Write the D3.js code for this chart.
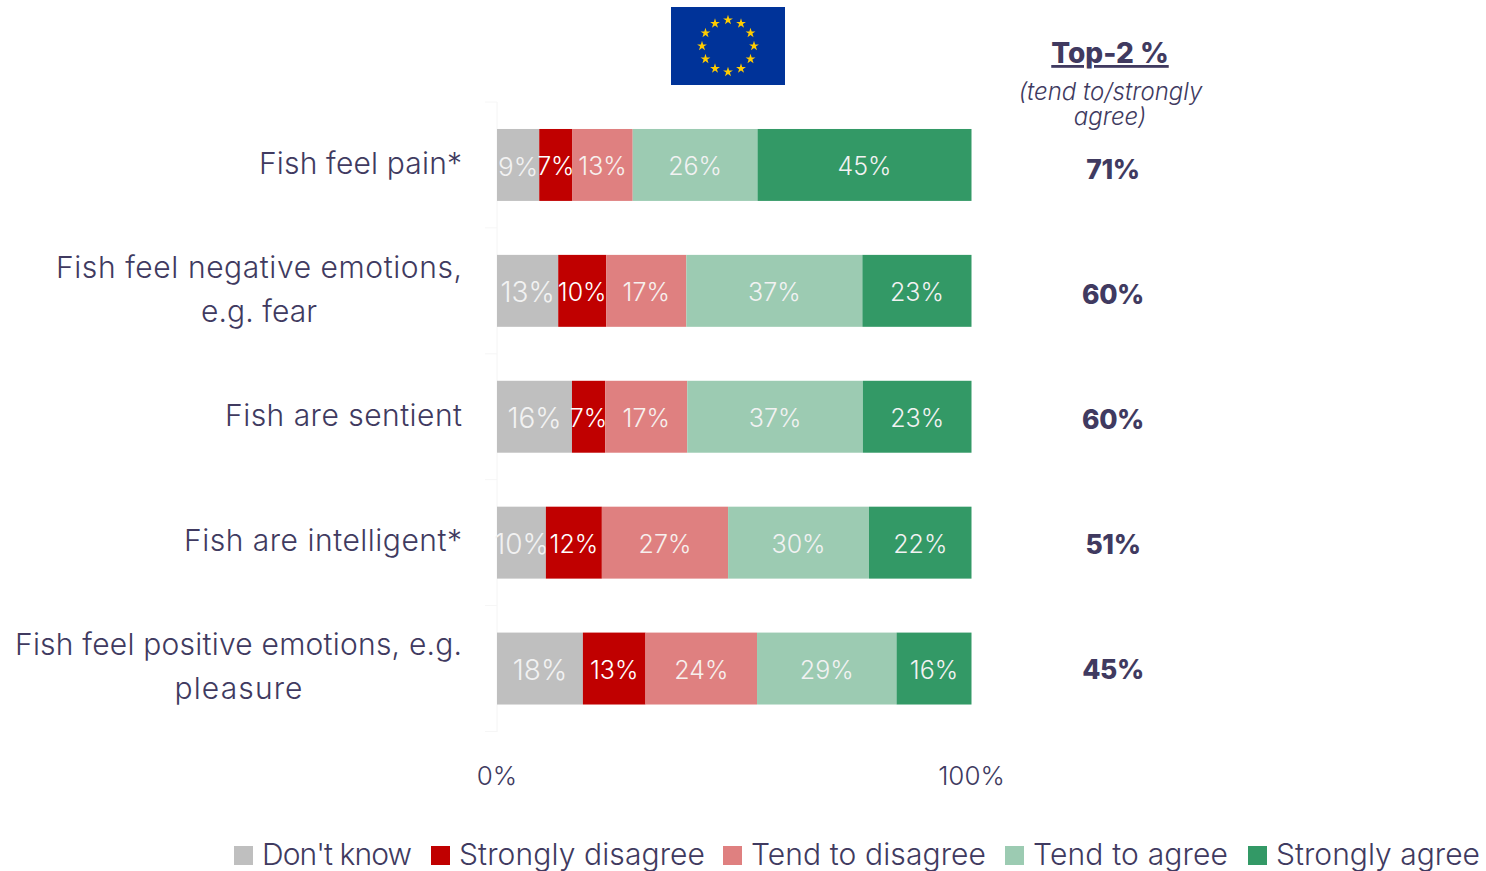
<!DOCTYPE html>
<html><head><meta charset="utf-8"><script src="https://cdn.jsdelivr.net/npm/d3@7"></script>
<style>html,body{margin:0;padding:0;background:#fff}svg{display:block}text{font-family:Inter,"Open Sans",sans-serif}</style></head>
<body><svg id="c" width="1486" height="871"></svg>
<script>
const categories = ["Fish feel pain*","Fish feel negative emotions,|e.g. fear","Fish are sentient","Fish are intelligent*","Fish feel positive emotions, e.g.|pleasure"];
const seriesNames = ["Don't know","Strongly disagree","Tend to disagree","Tend to agree","Strongly agree"];
const seriesColors = ["#bfbfbf","#c00000","#df8080","#9ccbb2","#339966"];
const labelColors = ["#f2f2f2","#ffffff","#f7f0ee","#f2f2f2","#f2f2f2"];
const dontKnow = [8.9,12.9,15.8,10.3,18.1];
const stronglyDisagree = [7.0,10.1,7.0,11.8,13.2];
const tendDisagree = [12.7,16.9,17.3,26.6,23.5];
const tendAgree = [26.3,37.1,37.0,29.7,29.4];
const stronglyAgree = [45.1,23.0,22.9,21.6,15.8];
const top2 = [71,60,60,51,45];
const xTicks = [0,100];
const series = [dontKnow,stronglyDisagree,tendDisagree,tendAgree,stronglyAgree];
const ink = "#403a60";
const svg = d3.select("#c");
const x = d3.scaleLinear().domain([0,100]).range([497,971.5]);
const y = d3.scaleBand().domain(categories).range([102,731.5]).paddingInner(0.4286).paddingOuter(0.2143);
const yTop = d3.scalePoint().domain(categories).range([169,669]);
// rendered widths of the reference's typeface, so the substitute font occupies the same run
const fitted = {"Fish feel pain*":203,"Fish feel negative emotions,":406,"e.g. fear":116,"Fish are sentient":237,"Fish are intelligent*":278,"Fish feel positive emotions, e.g.":447,"pleasure":128,
  "Don't know":150,"Strongly disagree":246,"Tend to disagree":235,"Tend to agree":195,"Strongly agree":204};
const fit = s => s.attr("textLength",fitted[s.text()]).attr("lengthAdjust","spacing");
const labelSize = (k,i) => k===0 ? (i===0 ? 26 : 28) : 25;

// faint axis
const edges = d3.range(6).map(i=>102+i*y.step());
svg.append("line").attr("x1",497).attr("x2",497).attr("y1",102).attr("y2",732).attr("stroke","#f4f4f4");
svg.selectAll(".tk").data(edges).join("line").attr("x1",485).attr("x2",497).attr("y1",d=>d).attr("y2",d=>d).attr("stroke","#f6f6f6");

// bars
categories.forEach((c,i)=>{
  let cum=0;
  series.forEach((s,k)=>{
    const v=s[i], x0=x(cum), x1=x(cum+v); cum+=v;
    svg.append("rect").attr("x",x0).attr("y",y(c)).attr("width",x1-x0).attr("height",y.bandwidth()).attr("fill",seriesColors[k]);
    svg.append("text").attr("x",(x0+x1)/2).attr("y",y(c)+y.bandwidth()/2+1.5).attr("dy","0.36em")
      .attr("text-anchor","middle").attr("font-size",labelSize(k,i)).attr("font-weight",300).attr("fill",labelColors[k])
      .text(Math.round(v)+"%");
  });
  // category label
  const parts=c.split("|");
  const cy=y(c)+y.bandwidth()/2;
  if(parts.length===1){
    svg.append("text").attr("x",462).attr("y",cy-2).attr("dy","0.36em").attr("text-anchor","end")
      .attr("font-size",30).attr("font-weight",300).attr("fill",ink).text(parts[0]).call(fit);
  } else {
    svg.append("text").attr("x",462).attr("y",cy-24).attr("dy","0.36em").attr("text-anchor","end")
      .attr("font-size",30).attr("font-weight",300).attr("fill",ink).text(parts[0]).call(fit);
    const cx=462-fitted[parts[0]]/2;
    svg.append("text").attr("x",cx).attr("y",cy+20).attr("dy","0.36em").attr("text-anchor","middle")
      .attr("font-size",30).attr("font-weight",300).attr("fill",ink).text(parts[1]).call(fit);
  }
  svg.append("text").attr("x",1113).attr("y",yTop(c)).attr("dy","0.36em").attr("text-anchor","middle")
    .attr("font-size",26.5).attr("font-weight",800).attr("letter-spacing",-0.4).attr("fill",ink).text(top2[i]+"%");
});

// x tick labels
svg.selectAll(".xl").data(xTicks).join("text").attr("x",d=>x(d)).attr("y",776).attr("dy","0.36em")
  .attr("text-anchor","middle").attr("font-size",26).attr("font-weight",300).attr("fill",ink).text(d=>d+"%");

// top-2 header
svg.append("text").attr("x",1110).attr("y",63).attr("text-anchor","middle").attr("font-size",28).attr("font-weight",800).attr("fill",ink).attr("text-decoration","underline").text("Top-2 %");
svg.append("text").attr("x",1110.5).attr("y",100).attr("text-anchor","middle").attr("font-size",24).attr("font-style","italic").attr("font-weight",300).attr("fill",ink).text("(tend to/strongly");
svg.append("text").attr("x",1110).attr("y",125).attr("text-anchor","middle").attr("font-size",24).attr("font-style","italic").attr("font-weight",300).attr("fill",ink).text("agree)");

// legend
const legendX=[234,431,723,1005,1248];
seriesNames.forEach((n,k)=>{
  svg.append("rect").attr("x",legendX[k]).attr("y",846).attr("width",19).attr("height",19).attr("fill",seriesColors[k]);
  svg.append("text").attr("x",legendX[k]+28).attr("y",854).attr("dy","0.36em").attr("font-size",30).attr("font-weight",300).attr("fill",ink).text(n).call(fit);
});

// EU flag
const flag=svg.append("g");
flag.append("rect").attr("x",671).attr("y",7).attr("width",114).attr("height",78).attr("fill","#003399");
const star=d3.symbol().type(d3.symbolStar).size(30);
d3.range(12).forEach(i=>{
  const t=i*Math.PI/6;
  flag.append("path").attr("d",star()).attr("fill","#ffcc00")
    .attr("transform",`translate(${728+26*Math.sin(t)},${46-26*Math.cos(t)})`);
});
</script></body></html>
